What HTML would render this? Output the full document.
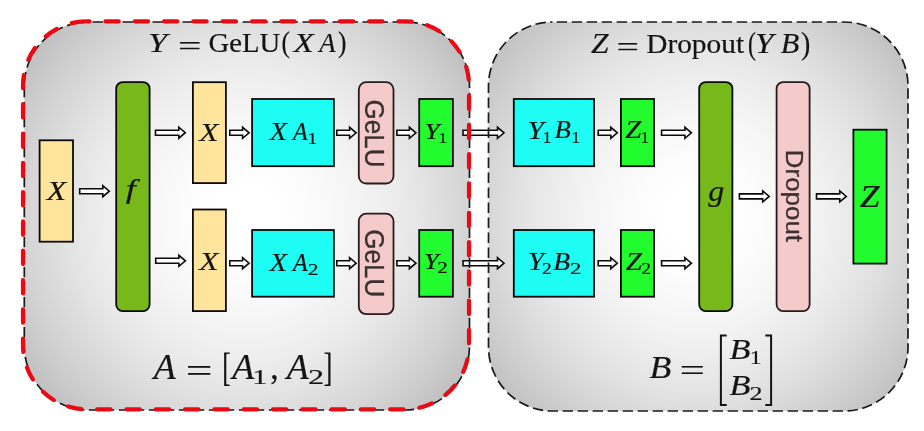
<!DOCTYPE html>
<html><head><meta charset="utf-8"><title>diagram</title>
<style>
html,body{margin:0;padding:0;background:#fff;}
body{width:924px;height:431px;overflow:hidden;font-family:"Liberation Serif",serif;}
svg{display:block;will-change:transform;}
.mi{font-family:"Liberation Serif",serif;font-style:italic;}
.mr{font-family:"Liberation Serif",serif;font-style:normal;}
.ss{font-family:"Liberation Sans",sans-serif;}
</style></head><body>
<svg width="924" height="431" viewBox="0 0 924 431">
<defs>
<radialGradient id="gl" gradientUnits="userSpaceOnUse" cx="246.5" cy="216" r="340">
<stop offset="0.0000" stop-color="#ffffff"/><stop offset="0.0588" stop-color="#ffffff"/><stop offset="0.1176" stop-color="#fefefe"/><stop offset="0.1765" stop-color="#fcfcfc"/><stop offset="0.2353" stop-color="#f9f9f9"/><stop offset="0.2941" stop-color="#f6f6f6"/><stop offset="0.3529" stop-color="#f2f2f2"/><stop offset="0.4118" stop-color="#eeeeee"/><stop offset="0.4706" stop-color="#e9e9e9"/><stop offset="0.5294" stop-color="#e3e3e3"/><stop offset="0.5882" stop-color="#dcdcdc"/><stop offset="0.6471" stop-color="#d5d5d5"/><stop offset="0.7059" stop-color="#cdcdcd"/><stop offset="0.7647" stop-color="#c4c4c4"/><stop offset="0.8235" stop-color="#bbbbbb"/><stop offset="0.8824" stop-color="#b1b1b1"/><stop offset="0.9412" stop-color="#a6a6a6"/><stop offset="1.0000" stop-color="#9a9a9a"/>
</radialGradient>
<radialGradient id="gr" gradientUnits="userSpaceOnUse" cx="698" cy="216.5" r="340">
<stop offset="0.0000" stop-color="#ffffff"/><stop offset="0.0588" stop-color="#ffffff"/><stop offset="0.1176" stop-color="#fefefe"/><stop offset="0.1765" stop-color="#fcfcfc"/><stop offset="0.2353" stop-color="#f9f9f9"/><stop offset="0.2941" stop-color="#f6f6f6"/><stop offset="0.3529" stop-color="#f2f2f2"/><stop offset="0.4118" stop-color="#ededed"/><stop offset="0.4706" stop-color="#e8e8e8"/><stop offset="0.5294" stop-color="#e2e2e2"/><stop offset="0.5882" stop-color="#dbdbdb"/><stop offset="0.6471" stop-color="#d3d3d3"/><stop offset="0.7059" stop-color="#cbcbcb"/><stop offset="0.7647" stop-color="#c2c2c2"/><stop offset="0.8235" stop-color="#b8b8b8"/><stop offset="0.8824" stop-color="#aeaeae"/><stop offset="0.9412" stop-color="#a3a3a3"/><stop offset="1.0000" stop-color="#979797"/>
</radialGradient>
</defs>
<rect width="924" height="431" fill="#fff"/>

<rect x="24.3" y="22" width="445.2" height="388" rx="64" ry="64" fill="url(#gl)"/>
<rect x="488.5" y="22" width="419.5" height="389" rx="64" ry="64" fill="url(#gr)"/>
<path d="M463.00,130.30 H497.50 V127.30 L504.00,132.80 L497.50,138.30 V135.30 H463.00 Z" fill="#fff" stroke="#0a0a0a" stroke-width="1.6" stroke-linejoin="miter"/>
<path d="M463.00,260.70 H497.50 V257.70 L504.00,263.20 L497.50,268.70 V265.70 H463.00 Z" fill="#fff" stroke="#0a0a0a" stroke-width="1.6" stroke-linejoin="miter"/>
<rect x="24.3" y="22" width="445.2" height="388" rx="64" ry="64" fill="none" stroke="#1a1a1a" stroke-width="1.7" stroke-dasharray="10.4 4.6" stroke-dashoffset="10.8"/>
<rect x="23" y="21.3" width="446" height="388" rx="64" ry="64" fill="none" stroke="#ea0a14" stroke-width="4.2" stroke-linecap="round" stroke-dasharray="13.4 15.9" stroke-dashoffset="10.9"/>
<rect x="488.5" y="22" width="419.5" height="389" rx="64" ry="64" fill="none" stroke="#1a1a1a" stroke-width="1.7" stroke-dasharray="10.4 4.6" stroke-dashoffset="10.8"/>
<rect x="39.60" y="140.30" width="33.40" height="101.40" rx="0" ry="0" fill="#ffe49c" stroke="#0a0a0a" stroke-width="1.8"/>
<rect x="116.20" y="82.10" width="33.40" height="229.00" rx="6.5" ry="6.5" fill="#77b81a" stroke="#0a0a0a" stroke-width="1.8"/>
<rect x="192.90" y="82.20" width="33.00" height="100.90" rx="0" ry="0" fill="#ffe49c" stroke="#0a0a0a" stroke-width="1.8"/>
<rect x="192.90" y="209.50" width="33.00" height="101.60" rx="0" ry="0" fill="#ffe49c" stroke="#0a0a0a" stroke-width="1.8"/>
<rect x="252.10" y="99.00" width="81.80" height="67.20" rx="0" ry="0" fill="#1dfdf3" stroke="#0a0a0a" stroke-width="1.8"/>
<rect x="252.10" y="230.00" width="81.80" height="66.70" rx="0" ry="0" fill="#1dfdf3" stroke="#0a0a0a" stroke-width="1.8"/>
<rect x="358.80" y="82.10" width="34.70" height="101.40" rx="7.5" ry="7.5" fill="#f4cbca" stroke="#2a1c1c" stroke-width="1.8"/>
<rect x="358.80" y="213.60" width="34.70" height="100.60" rx="7.5" ry="7.5" fill="#f4cbca" stroke="#2a1c1c" stroke-width="1.8"/>
<rect x="419.20" y="99.00" width="33.70" height="67.20" rx="0" ry="0" fill="#22fb2e" stroke="#0a0a0a" stroke-width="1.8"/>
<rect x="419.20" y="230.00" width="33.70" height="66.70" rx="0" ry="0" fill="#22fb2e" stroke="#0a0a0a" stroke-width="1.8"/>
<rect x="513.80" y="99.00" width="80.30" height="67.20" rx="0" ry="0" fill="#1dfdf3" stroke="#0a0a0a" stroke-width="1.8"/>
<rect x="513.80" y="230.00" width="80.30" height="66.70" rx="0" ry="0" fill="#1dfdf3" stroke="#0a0a0a" stroke-width="1.8"/>
<rect x="620.90" y="99.00" width="33.20" height="67.20" rx="0" ry="0" fill="#22fb2e" stroke="#0a0a0a" stroke-width="1.8"/>
<rect x="620.90" y="230.00" width="33.20" height="66.70" rx="0" ry="0" fill="#22fb2e" stroke="#0a0a0a" stroke-width="1.8"/>
<rect x="699.20" y="82.10" width="33.20" height="229.00" rx="6.5" ry="6.5" fill="#77b81a" stroke="#0a0a0a" stroke-width="1.8"/>
<rect x="776.60" y="82.10" width="33.00" height="229.00" rx="6.5" ry="6.5" fill="#f4cbca" stroke="#2a1c1c" stroke-width="1.8"/>
<rect x="853.40" y="129.70" width="33.20" height="133.90" rx="0" ry="0" fill="#22fb2e" stroke="#0a0a0a" stroke-width="1.8"/>
<path d="M79.70,188.70 H102.80 V185.70 L109.30,191.20 L102.80,196.70 V193.70 H79.70 Z" fill="#fff" stroke="#0a0a0a" stroke-width="1.6" stroke-linejoin="miter"/>
<path d="M155.50,130.20 H178.80 V127.20 L185.30,132.70 L178.80,138.20 V135.20 H155.50 Z" fill="#fff" stroke="#0a0a0a" stroke-width="1.6" stroke-linejoin="miter"/>
<path d="M155.70,258.30 H178.90 V255.30 L185.40,260.80 L178.90,266.30 V263.30 H155.70 Z" fill="#fff" stroke="#0a0a0a" stroke-width="1.6" stroke-linejoin="miter"/>
<path d="M229.80,130.30 H242.60 V127.30 L249.10,132.80 L242.60,138.30 V135.30 H229.80 Z" fill="#fff" stroke="#0a0a0a" stroke-width="1.6" stroke-linejoin="miter"/>
<path d="M336.80,130.30 H349.60 V127.30 L356.10,132.80 L349.60,138.30 V135.30 H336.80 Z" fill="#fff" stroke="#0a0a0a" stroke-width="1.6" stroke-linejoin="miter"/>
<path d="M396.90,130.30 H409.40 V127.30 L415.90,132.80 L409.40,138.30 V135.30 H396.90 Z" fill="#fff" stroke="#0a0a0a" stroke-width="1.6" stroke-linejoin="miter"/>
<path d="M598.20,130.30 H610.80 V127.30 L617.30,132.80 L610.80,138.30 V135.30 H598.20 Z" fill="#fff" stroke="#0a0a0a" stroke-width="1.6" stroke-linejoin="miter"/>
<path d="M661.60,130.30 H684.90 V127.30 L691.40,132.80 L684.90,138.30 V135.30 H661.60 Z" fill="#fff" stroke="#0a0a0a" stroke-width="1.6" stroke-linejoin="miter"/>
<path d="M229.80,260.70 H242.60 V257.70 L249.10,263.20 L242.60,268.70 V265.70 H229.80 Z" fill="#fff" stroke="#0a0a0a" stroke-width="1.6" stroke-linejoin="miter"/>
<path d="M336.80,260.70 H349.60 V257.70 L356.10,263.20 L349.60,268.70 V265.70 H336.80 Z" fill="#fff" stroke="#0a0a0a" stroke-width="1.6" stroke-linejoin="miter"/>
<path d="M396.90,260.70 H409.40 V257.70 L415.90,263.20 L409.40,268.70 V265.70 H396.90 Z" fill="#fff" stroke="#0a0a0a" stroke-width="1.6" stroke-linejoin="miter"/>
<path d="M598.20,260.70 H610.80 V257.70 L617.30,263.20 L610.80,268.70 V265.70 H598.20 Z" fill="#fff" stroke="#0a0a0a" stroke-width="1.6" stroke-linejoin="miter"/>
<path d="M661.60,260.70 H684.90 V257.70 L691.40,263.20 L684.90,268.70 V265.70 H661.60 Z" fill="#fff" stroke="#0a0a0a" stroke-width="1.6" stroke-linejoin="miter"/>
<path d="M739.40,193.90 H762.70 V190.90 L769.20,196.40 L762.70,201.90 V198.90 H739.40 Z" fill="#fff" stroke="#0a0a0a" stroke-width="1.6" stroke-linejoin="miter"/>
<path d="M816.50,193.90 H839.80 V190.90 L846.30,196.40 L839.80,201.90 V198.90 H816.50 Z" fill="#fff" stroke="#0a0a0a" stroke-width="1.6" stroke-linejoin="miter"/>
<text class="mi" font-size="100" fill="#141414" stroke="#141414" stroke-width="0.65" stroke-linejoin="round" transform="matrix(0.3455 0 0 0.2718 148.01 51.90)">Y</text>
<text class="mr" font-size="100" fill="#141414" stroke="#141414" stroke-width="0.59" stroke-linejoin="round" transform="matrix(0.4151 0 0 0.2800 178.02 54.61)">=</text>
<text class="mr" font-size="100" fill="#141414" stroke="#141414" stroke-width="0.71" stroke-linejoin="round" transform="matrix(0.2873 0 0 0.2781 208.55 52.02)">GeLU</text>
<text class="mr" font-size="100" fill="#141414" stroke="#141414" stroke-width="0.72" stroke-linejoin="round" transform="matrix(0.2524 0 0 0.3041 281.43 52.44)">(</text>
<text class="mi" font-size="100" fill="#141414" stroke="#141414" stroke-width="0.66" stroke-linejoin="round" transform="matrix(0.3333 0 0 0.2718 293.58 51.90)">X</text>
<text class="mi" font-size="100" fill="#141414" stroke="#141414" stroke-width="0.74" stroke-linejoin="round" transform="matrix(0.2672 0 0 0.2742 319.17 51.90)">A</text>
<text class="mr" font-size="100" fill="#141414" stroke="#141414" stroke-width="0.72" stroke-linejoin="round" transform="matrix(0.2524 0 0 0.3041 337.98 52.44)">)</text>
<text class="mi" font-size="100" fill="#141414" stroke="#141414" stroke-width="0.67" stroke-linejoin="round" transform="matrix(0.3167 0 0 0.2840 591.00 53.10)">Z</text>
<text class="mr" font-size="100" fill="#141414" stroke="#141414" stroke-width="0.60" stroke-linejoin="round" transform="matrix(0.3978 0 0 0.2760 616.61 56.38)">=</text>
<text class="mr" font-size="100" fill="#141414" stroke="#141414" stroke-width="0.69" stroke-linejoin="round" transform="matrix(0.2939 0 0 0.2836 646.19 53.07)">Dropout</text>
<text class="mr" font-size="100" fill="#141414" stroke="#141414" stroke-width="0.73" stroke-linejoin="round" transform="matrix(0.2369 0 0 0.3140 747.89 53.53)">(</text>
<text class="mi" font-size="100" fill="#141414" stroke="#141414" stroke-width="0.65" stroke-linejoin="round" transform="matrix(0.3319 0 0 0.2855 755.09 53.20)">Y</text>
<text class="mi" font-size="100" fill="#141414" stroke="#141414" stroke-width="0.68" stroke-linejoin="round" transform="matrix(0.3034 0 0 0.2844 780.70 53.13)">B</text>
<text class="mr" font-size="100" fill="#141414" stroke="#141414" stroke-width="0.67" stroke-linejoin="round" transform="matrix(0.2796 0 0 0.3140 800.99 53.53)">)</text>
<text class="mi" font-size="100" fill="#141414" stroke="#141414" stroke-width="0.68" stroke-linejoin="round" transform="matrix(0.3185 0 0 0.2718 46.74 200.10)">X</text>
<text class="mi" font-size="100" fill="#141414" stroke="#141414" stroke-width="0.63" stroke-linejoin="round" transform="matrix(0.3634 0 0 0.2747 125.64 198.16)">f</text>
<text class="mi" font-size="100" fill="#141414" stroke="#141414" stroke-width="0.70" stroke-linejoin="round" transform="matrix(0.3156 0 0 0.2595 199.33 141.20)">X</text>
<text class="mi" font-size="100" fill="#141414" stroke="#141414" stroke-width="0.74" stroke-linejoin="round" transform="matrix(0.2830 0 0 0.2565 269.82 139.80)">X</text>
<text class="mi" font-size="100" fill="#141414" stroke="#141414" stroke-width="0.80" stroke-linejoin="round" transform="matrix(0.2403 0 0 0.2576 293.12 139.80)">A</text>
<text class="mr" font-size="100" fill="#141414" stroke="#141414" stroke-width="1.15" stroke-linejoin="round" transform="matrix(0.1872 0 0 0.1621 307.66 143.60)">1</text>
<text class="mi" font-size="100" fill="#141414" stroke="#141414" stroke-width="0.78" stroke-linejoin="round" transform="matrix(0.2723 0 0 0.2412 424.43 138.60)">Y</text>
<text class="mr" font-size="100" fill="#141414" stroke="#141414" stroke-width="1.20" stroke-linejoin="round" transform="matrix(0.1816 0 0 0.1530 438.31 142.50)">1</text>
<text class="mi" font-size="100" fill="#141414" stroke="#141414" stroke-width="0.74" stroke-linejoin="round" transform="matrix(0.2945 0 0 0.2504 527.41 138.60)">Y</text>
<text class="mr" font-size="100" fill="#141414" stroke="#141414" stroke-width="1.13" stroke-linejoin="round" transform="matrix(0.1816 0 0 0.1712 542.41 143.00)">1</text>
<text class="mi" font-size="100" fill="#141414" stroke="#141414" stroke-width="0.78" stroke-linejoin="round" transform="matrix(0.2672 0 0 0.2464 554.53 138.34)">B</text>
<text class="mr" font-size="100" fill="#141414" stroke="#141414" stroke-width="1.13" stroke-linejoin="round" transform="matrix(0.1816 0 0 0.1712 571.31 143.00)">1</text>
<text class="mi" font-size="100" fill="#141414" stroke="#141414" stroke-width="0.75" stroke-linejoin="round" transform="matrix(0.2878 0 0 0.2473 625.34 138.40)">Z</text>
<text class="mr" font-size="100" fill="#141414" stroke="#141414" stroke-width="1.18" stroke-linejoin="round" transform="matrix(0.1674 0 0 0.1712 640.84 143.00)">1</text>
<text class="mi" font-size="100" fill="#141414" stroke="#141414" stroke-width="0.70" stroke-linejoin="round" transform="matrix(0.3156 0 0 0.2595 199.33 269.50)">X</text>
<text class="mi" font-size="100" fill="#141414" stroke="#141414" stroke-width="0.75" stroke-linejoin="round" transform="matrix(0.2830 0 0 0.2519 269.82 270.70)">X</text>
<text class="mi" font-size="100" fill="#141414" stroke="#141414" stroke-width="0.81" stroke-linejoin="round" transform="matrix(0.2403 0 0 0.2530 293.12 270.70)">A</text>
<text class="mr" font-size="100" fill="#141414" stroke="#141414" stroke-width="1.06" stroke-linejoin="round" transform="matrix(0.2161 0 0 0.1645 307.68 274.70)">2</text>
<text class="mi" font-size="100" fill="#141414" stroke="#141414" stroke-width="0.79" stroke-linejoin="round" transform="matrix(0.2638 0 0 0.2412 423.98 269.20)">Y</text>
<text class="mr" font-size="100" fill="#141414" stroke="#141414" stroke-width="1.10" stroke-linejoin="round" transform="matrix(0.2112 0 0 0.1570 437.20 273.10)">2</text>
<text class="mi" font-size="100" fill="#141414" stroke="#141414" stroke-width="0.75" stroke-linejoin="round" transform="matrix(0.2877 0 0 0.2504 527.95 269.80)">Y</text>
<text class="mr" font-size="100" fill="#141414" stroke="#141414" stroke-width="1.11" stroke-linejoin="round" transform="matrix(0.1963 0 0 0.1660 541.97 273.90)">2</text>
<text class="mi" font-size="100" fill="#141414" stroke="#141414" stroke-width="0.77" stroke-linejoin="round" transform="matrix(0.2759 0 0 0.2464 553.22 269.54)">B</text>
<text class="mr" font-size="100" fill="#141414" stroke="#141414" stroke-width="1.03" stroke-linejoin="round" transform="matrix(0.2286 0 0 0.1660 570.03 273.90)">2</text>
<text class="mi" font-size="100" fill="#141414" stroke="#141414" stroke-width="0.74" stroke-linejoin="round" transform="matrix(0.2932 0 0 0.2473 625.83 269.60)">Z</text>
<text class="mr" font-size="100" fill="#141414" stroke="#141414" stroke-width="1.12" stroke-linejoin="round" transform="matrix(0.1913 0 0 0.1660 641.39 273.90)">2</text>
<text class="mi" font-size="100" fill="#141414" stroke="#141414" stroke-width="0.65" stroke-linejoin="round" transform="matrix(0.3191 0 0 0.2945 708.30 200.74)">g</text>
<text class="mi" font-size="100" fill="#141414" stroke="#141414" stroke-width="0.60" stroke-linejoin="round" transform="matrix(0.3566 0 0 0.3145 859.85 206.80)">Z</text>
<text class="ss" font-size="100" fill="#3b3030" stroke="#3b3030" stroke-width="1.11" stroke-linejoin="round" transform="matrix(0 0.2604 -0.2784 0 365.48 99.60)">GeLU</text>
<text class="ss" font-size="100" fill="#3b3030" stroke="#3b3030" stroke-width="1.12" stroke-linejoin="round" transform="matrix(0 0.2600 -0.2784 0 365.48 229.30)">GeLU</text>
<text class="ss" font-size="100" fill="#3b3030" stroke="#3b3030" stroke-width="1.20" stroke-linejoin="round" transform="matrix(0 0.2590 -0.2402 0 785.78 149.86)">Dropout</text>
<text class="mi" font-size="100" fill="#141414" stroke="#141414" stroke-width="0.56" stroke-linejoin="round" transform="matrix(0.3597 0 0 0.3606 153.78 378.60)">A</text>
<text class="mr" font-size="100" fill="#141414" stroke="#141414" stroke-width="0.51" stroke-linejoin="round" transform="matrix(0.4731 0 0 0.3280 185.73 382.01)">=</text>
<text class="mr" font-size="100" fill="#141414" stroke="#141414" stroke-width="0.62" stroke-linejoin="round" transform="matrix(0.2562 0 0 0.4024 222.18 381.17)">[</text>
<text class="mi" font-size="100" fill="#141414" stroke="#141414" stroke-width="0.56" stroke-linejoin="round" transform="matrix(0.3597 0 0 0.3606 232.18 378.60)">A</text>
<text class="mr" font-size="100" fill="#141414" stroke="#141414" stroke-width="0.77" stroke-linejoin="round" transform="matrix(0.3035 0 0 0.2197 252.14 383.60)">1</text>
<text class="mr" font-size="100" fill="#141414" stroke="#141414" stroke-width="0.58" stroke-linejoin="round" transform="matrix(0.3333 0 0 0.3534 270.15 378.82)">,</text>
<text class="mi" font-size="100" fill="#141414" stroke="#141414" stroke-width="0.56" stroke-linejoin="round" transform="matrix(0.3597 0 0 0.3606 286.78 378.60)">A</text>
<text class="mr" font-size="100" fill="#141414" stroke="#141414" stroke-width="0.75" stroke-linejoin="round" transform="matrix(0.3230 0 0 0.2189 307.93 383.60)">2</text>
<text class="mr" font-size="100" fill="#141414" stroke="#141414" stroke-width="0.61" stroke-linejoin="round" transform="matrix(0.2667 0 0 0.4024 323.57 381.17)">]</text>
<text class="mi" font-size="100" fill="#141414" stroke="#141414" stroke-width="0.60" stroke-linejoin="round" transform="matrix(0.3569 0 0 0.3103 649.44 377.62)">B</text>
<text class="mr" font-size="100" fill="#141414" stroke="#141414" stroke-width="0.54" stroke-linejoin="round" transform="matrix(0.4452 0 0 0.3080 679.77 381.19)">=</text>
<text class="mi" font-size="100" fill="#141414" stroke="#141414" stroke-width="0.62" stroke-linejoin="round" transform="matrix(0.3431 0 0 0.3011 729.46 359.32)">B</text>
<text class="mr" font-size="100" fill="#141414" stroke="#141414" stroke-width="0.96" stroke-linejoin="round" transform="matrix(0.2355 0 0 0.1833 749.74 363.60)">1</text>
<text class="mi" font-size="100" fill="#141414" stroke="#141414" stroke-width="0.62" stroke-linejoin="round" transform="matrix(0.3431 0 0 0.3011 729.46 394.82)">B</text>
<text class="mr" font-size="100" fill="#141414" stroke="#141414" stroke-width="0.89" stroke-linejoin="round" transform="matrix(0.2609 0 0 0.1947 749.59 399.50)">2</text>
<path d="M726.7,335.6 H720.9 V405.1 H726.7" fill="none" stroke="#141414" stroke-width="2"/>
<path d="M765.3,335.6 H771.1 V405.1 H765.3" fill="none" stroke="#141414" stroke-width="2"/>
</svg>
</body></html>
